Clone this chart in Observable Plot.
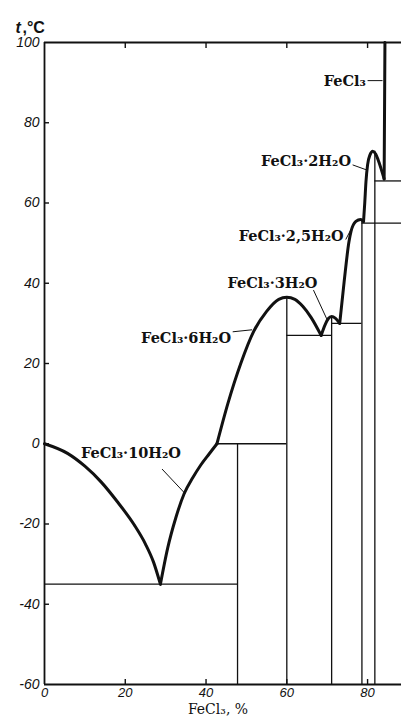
<!DOCTYPE html>
<html><head><meta charset="utf-8">
<script src="https://cdn.jsdelivr.net/npm/d3@7"></script>
<script src="https://cdn.jsdelivr.net/npm/@observablehq/plot@0.6"></script>
<style>body{margin:0;background:#fff}</style>
</head><body><div id="chart"></div>
<script>
// Axis ticks
const xTicks = [0, 20, 40, 60, 80];
const yTicks = [-60, -40, -20, 0, 20, 40, 60, 80, 100];

// Liquidus branches (FeCl3 %, t °C)
const iceP = [0, 5.7, 10, 14, 18, 22.2, 25, 27, 28.7];
const iceT = [0, -2.4, -5.6, -9.5, -14.4, -20.2, -25, -29.5, -35];
const h10P = [28.7, 30.5, 32.5, 34.6, 36.7, 38.7, 40.8, 42.7];
const h10T = [-35, -26, -18.5, -12.4, -8.5, -5.3, -2.5, 0];
const h6P = [42.7, 45.4, 48.6, 51.8, 55, 58, 60, 62, 64, 66, 68.5];
const h6T = [0, 10, 20, 28, 33, 36, 36.5, 36, 34.2, 31.5, 27];
const h3P = [68.5, 69.5, 70.3, 71.1, 72, 73.1];
const h3T = [27, 29.7, 31.2, 31.7, 31.3, 30];
const h25P = [73.1, 74.2, 75.4, 75.9, 77.1, 78.3, 79.0];
const h25T = [30, 40.4, 50.4, 52.9, 55.4, 55.9, 55.4];
const h2P = [79.0, 79.3, 79.6, 80, 80.6, 81.3, 82, 82.6, 83.3, 84.1];
const h2T = [55.4, 60, 65.3, 69.5, 72, 72.9, 72.2, 70.8, 68.7, 66];
const anhP = [84.1, 84.3];
const anhT = [66, 100];

// Compositions of the hydrates (vertical lines) and their tops
const compoundP = [47.8, 60, 71.1, 78.6, 81.8];
const compoundTop = [0, 36.5, 31.7, 55.9, 72.9];

// Invariant (horizontal) lines
const isoT = [-35, 0, 27, 30, 55, 65.5];
const isoFrom = [0, 42.7, 60, 71.1, 78.6, 81.8];
const isoTo = [47.8, 60, 71.1, 78.6, 88.4, 88.4];

// Phase labels and leader lines
const labelText = ["FeCl₃", "FeCl₃·2H₂O", "FeCl₃·2,5H₂O", "FeCl₃·3H₂O", "FeCl₃·6H₂O", "FeCl₃·10H₂O"];
const labelP = [79.6, 75.9, 74.1, 67.6, 46.2, 33.8];
const labelT = [90.3, 70.3, 51.6, 40.0, 26.3, -2.4];
const leaderP1 = [80.0, 76.3, 74.6, 66.6, 46.6, 29.1];
const leaderT1 = [90.5, 69.5, 50.9, 38.3, 27.9, -6.3];
const leaderP2 = [83.7, 79.6, 76.8, 69.9, 51.4, 34.8];
const leaderT2 = [90.5, 68.3, 55.2, 31.1, 28.4, -12.4];

const branches = [["ice", iceP, iceT], ["h10", h10P, h10T], ["h6", h6P, h6T], ["h3", h3P, h3T],
  ["h25", h25P, h25T], ["h2", h2P, h2T], ["anh", anhP, anhT]];
const curve = branches.flatMap(([name, P, T]) => P.map((p, i) => ({branch: name, p, t: T[i]})));
const labels = labelText.map((s, i) => ({s, p: labelP[i], t: labelT[i]}));
const leaders = labelText.map((s, i) => ({p1: leaderP1[i], t1: leaderT1[i], p2: leaderP2[i], t2: leaderT2[i]}));

const ink = "#111";
const tickFont = {fontFamily: "Liberation Sans, Arial, sans-serif", fontStyle: "italic"};
const fmt = d => d < 0 ? "-" + Math.abs(d) : String(d);

const chart = Plot.plot({
  width: 401, height: 721,
  marginLeft: 44, marginRight: 0, marginTop: 42, marginBottom: 37,
  x: {domain: [0, 88.4]},
  y: {domain: [-60, 100]},
  style: {background: "#fff", color: ink},
  marks: [
    // tick labels
    Plot.axisY({ticks: yTicks, tickSize: 0, tickPadding: 5, tickFormat: fmt, label: null, fontSize: 14, ...tickFont}),
    Plot.axisX({ticks: xTicks, anchor: "bottom", tickSize: 0, tickPadding: 3, tickFormat: fmt, label: null, fontSize: 13, ...tickFont}),
    // inward tick marks
    Plot.axisY({ticks: yTicks.slice(1, -1), tickSize: 5, dx: 5, tickFormat: () => "", label: null, strokeWidth: 1.4}),
    Plot.axisX({ticks: xTicks.slice(1), anchor: "bottom", tickSize: 5, dy: -5, tickFormat: () => "", label: null, strokeWidth: 1.4}),
    Plot.axisX({ticks: xTicks.slice(1), anchor: "top", tickSize: 5, dy: 5, tickFormat: () => "", label: null, strokeWidth: 1.4}),
    // frame
    Plot.ruleX([0], {stroke: ink, strokeWidth: 1.8}),
    Plot.ruleY([-60, 100], {stroke: ink, strokeWidth: 1.8}),
    // compound verticals and invariant horizontals
    Plot.ruleX(compoundP, {x: d => d, y1: -60, y2: (d, i) => compoundTop[i], stroke: ink, strokeWidth: 1.3}),
    Plot.ruleY(isoT, {y: d => d, x1: (d, i) => isoFrom[i], x2: (d, i) => isoTo[i], stroke: ink, strokeWidth: 1.3}),
    // leaders
    Plot.link(leaders, {x1: "p1", y1: "t1", x2: "p2", y2: "t2", stroke: ink, strokeWidth: 1}),
    // liquidus
    Plot.line(curve, {x: "p", y: "t", z: "branch", curve: "monotone-x", stroke: ink, strokeWidth: 3, strokeLinejoin: "round", strokeLinecap: "round"}),
    // labels
    Plot.text(labels, {x: "p", y: "t", text: "s", textAnchor: "end", fontFamily: "DejaVu Serif, serif", fontSize: 14.5, fontWeight: "bold", fill: ink}),
    // titles
    Plot.text(["t"], {frameAnchor: "top-left", dx: -29, dy: -21, textAnchor: "start", fontFamily: "Liberation Sans, Arial, sans-serif", fontSize: 16, fontWeight: "bold", fontStyle: "italic", fill: ink}),
    Plot.text([",°C"], {frameAnchor: "top-left", dx: -22, dy: -21, textAnchor: "start", fontFamily: "Liberation Sans, Arial, sans-serif", fontSize: 16, fontWeight: "bold", fill: ink}),
    Plot.text(["FeCl₃, %"], {frameAnchor: "bottom", dx: -5, dy: 29, fontFamily: "DejaVu Serif, serif", fontSize: 14, fill: ink})
  ]
});
document.getElementById("chart").appendChild(chart);
</script>
</body></html>
